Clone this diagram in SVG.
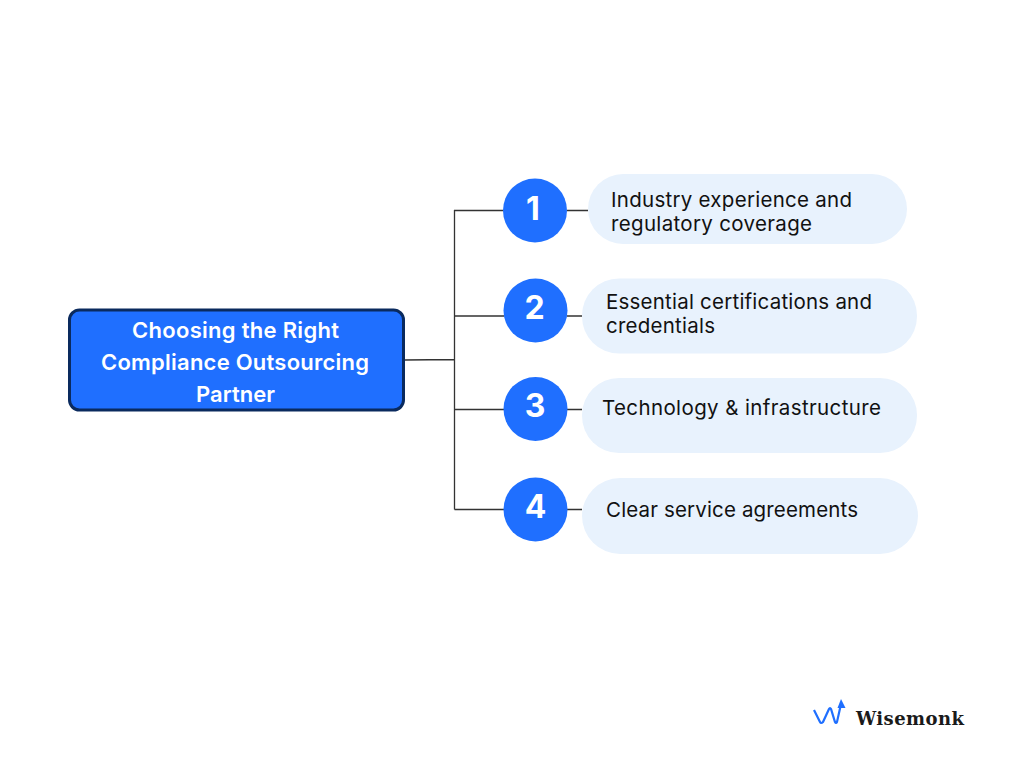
<svg xmlns="http://www.w3.org/2000/svg" width="1024" height="768" viewBox="0 0 1024 768">
<style>
.c{stroke:#333;stroke-width:1.3;fill:none}
.n{fill:#1f6fff}
.p{fill:#e8f2fd}
.d{font-family:"Inter","Noto Sans",sans-serif;font-weight:700;font-size:32px;fill:#fff;text-anchor:middle}
.t{font-family:"Inter","Noto Sans",sans-serif;font-size:20.500px;fill:#111}
.h{font-family:"Inter","Noto Sans",sans-serif;font-weight:600;font-size:22px;fill:#fff}
</style>
<rect width="1024" height="768" fill="#fff"/>
<g id="connectors">
<path class="c" d="M404 360L454.500 359.500M454.500 210V509.500M454 210.500H504M567 210.500H588M454 316H504M567 316H582M454.500 409.500H504M567 409.500H582M454.500 509.500H504M567 509.500H582"/>
</g>
<g id="root">
<rect x="69.500" y="310" width="334" height="100" rx="10" fill="#1f6fff" stroke="#0a2a5e" stroke-width="3"/>
<text class="h" x="132" y="338" textLength="207">Choosing the Right</text>
<text class="h" x="101" y="370" textLength="268">Compliance Outsourcing</text>
<text class="h" x="196" y="402" textLength="79">Partner</text>
</g>
<g id="node1">
<circle class="n" cx="535" cy="210.500" r="32"/>
<text class="d" x="533" y="220">1</text>
<rect class="p" x="588" y="174" width="319" height="70" rx="35"/>
<text class="t" x="611" y="207" textLength="241">Industry experience and</text>
<text class="t" x="611" y="231" textLength="201">regulatory coverage</text>
</g>
<g id="node2">
<circle class="n" cx="535.500" cy="310.500" r="32"/>
<text class="d" x="534.500" y="319">2</text>
<rect class="p" x="582" y="278.500" width="335" height="75" rx="37"/>
<text class="t" x="606" y="309" textLength="266">Essential certifications and</text>
<text class="t" x="606" y="333" textLength="109">credentials</text>
</g>
<g id="node3">
<circle class="n" cx="535.500" cy="409" r="32"/>
<text class="d" x="535" y="417">3</text>
<rect class="p" x="582" y="378" width="335" height="75" rx="37"/>
<text class="t" x="602" y="415" textLength="279">Technology &amp; infrastructure</text>
</g>
<g id="node4">
<circle class="n" cx="535.500" cy="509.500" r="32"/>
<text class="d" x="535.500" y="518">4</text>
<rect class="p" x="582" y="478" width="336" height="76" rx="38"/>
<text class="t" x="606" y="517" textLength="252">Clear service agreements</text>
</g>
<g id="logo">
<path d="M814 710L820 722Q821 724 823 722L829 709Q830 707 831 709L835 722Q836 724 837 722L841 704" fill="none" stroke="#1f6fff" stroke-width="2.200"/>
<path d="M841 699L845.500 708H837.500Z" fill="#1f6fff"/>
<text x="856" y="725" font-family="DejaVu Serif,serif" font-weight="700" font-size="18px" fill="#1a1a1a" textLength="108">Wisemonk</text>
</g>
</svg>
